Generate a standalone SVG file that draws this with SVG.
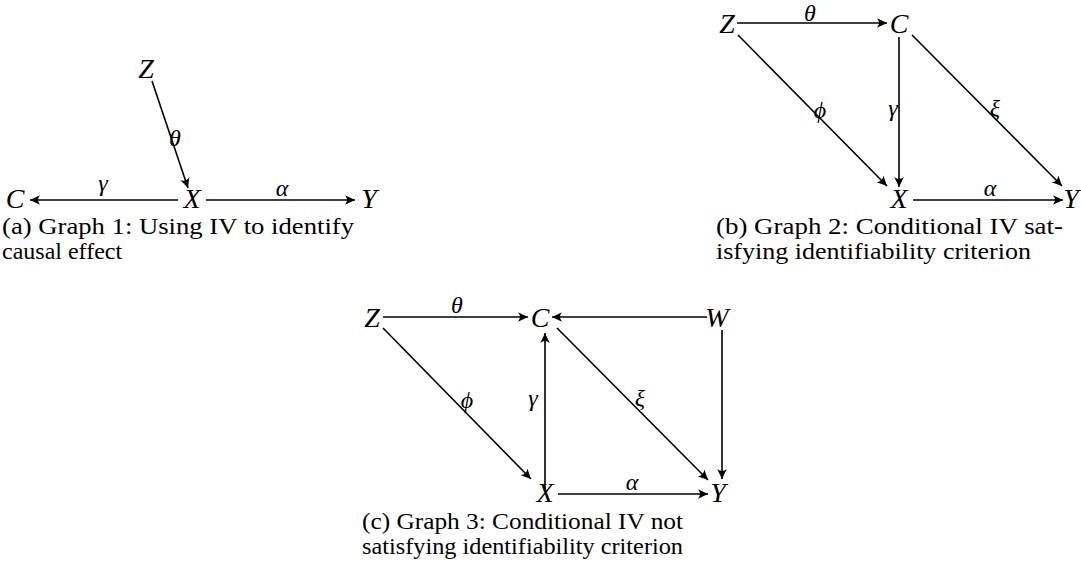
<svg xmlns="http://www.w3.org/2000/svg" width="1081" height="568" viewBox="0 0 1081 568" font-family="'Liberation Serif', 'Times New Roman', Times, 'DejaVu Serif', serif">
<style>
text{font-family:'Liberation Serif','Times New Roman',Times,'DejaVu Serif','Noto Serif',serif}
.node{font-style:italic;font-size:28px;fill:#000;text-anchor:middle}
.lbl{font-style:italic;font-size:24px;fill:#000;text-anchor:middle}
.cap{font-size:24px;fill:#000}
.e{stroke:#000;stroke-width:1.6;fill:none;marker-end:url(#arr)}
</style>
<defs>
<marker id="arr" markerUnits="userSpaceOnUse" viewBox="-11 -6 12 12" refX="0" refY="0" markerWidth="12" markerHeight="12" orient="auto">
<path d="M0,0 L-10,-4.8 Q-6,0 -10,4.8 Z" fill="#000"/>
</marker>
</defs>
<g id="connectors">
<line class="e" x1="152" y1="81" x2="188" y2="188"/>
<line class="e" x1="178" y1="200" x2="30" y2="200"/>
<line class="e" x1="206" y1="200" x2="355" y2="200"/>
<line class="e" x1="737" y1="23" x2="887" y2="23"/>
<line class="e" x1="738" y1="35" x2="887" y2="186"/>
<line class="e" x1="899" y1="37" x2="899" y2="187"/>
<line class="e" x1="912" y1="35" x2="1062" y2="186"/>
<line class="e" x1="913" y1="200" x2="1063" y2="200"/>
<line class="e" x1="383" y1="317" x2="528" y2="317"/>
<line class="e" x1="707" y1="317" x2="552" y2="317"/>
<line class="e" x1="383" y1="328" x2="531" y2="479"/>
<line class="e" x1="545" y1="489" x2="545" y2="333"/>
<line class="e" x1="557" y1="328" x2="708" y2="480"/>
<line class="e" x1="722" y1="330" x2="722" y2="479"/>
<line class="e" x1="558" y1="494" x2="708" y2="494"/>
</g>
<g id="edge-labels">
<text class="lbl" x="175" y="146">θ</text>
<text class="lbl" x="103" y="191">γ</text>
<text class="lbl" x="282" y="196">α</text>
<text class="lbl" x="810" y="21">θ</text>
<text class="lbl" x="820" y="118">ϕ</text>
<text class="lbl" x="893" y="116">γ</text>
<text class="lbl" x="995" y="116">ξ</text>
<text class="lbl" x="990" y="196">α</text>
<text class="lbl" x="457" y="313">θ</text>
<text class="lbl" x="467" y="408">ϕ</text>
<text class="lbl" x="533" y="406">γ</text>
<text class="lbl" x="640" y="406">ξ</text>
<text class="lbl" x="632" y="490">α</text>
</g>
<g id="graph1">
<g id="g1-Z"><text class="node" x="146" y="78">Z</text></g>
<g id="g1-X"><text class="node" x="192" y="208">X</text></g>
<g id="g1-C"><text class="node" x="15" y="208">C</text></g>
<g id="g1-Y"><text class="node" x="369" y="208">Y</text></g>
<g id="g1-caption">
<text class="cap" x="2" y="234" textLength="352" lengthAdjust="spacingAndGlyphs">(a) Graph 1: Using IV to identify</text>
<text class="cap" x="2" y="259">causal effect</text>
</g>
</g>
<g id="graph2">
<g id="g2-Z"><text class="node" x="727" y="33">Z</text></g>
<g id="g2-C"><text class="node" x="899" y="33">C</text></g>
<g id="g2-X"><text class="node" x="899" y="208">X</text></g>
<g id="g2-Y"><text class="node" x="1071" y="208">Y</text></g>
<g id="g2-caption">
<text class="cap" x="716" y="234" textLength="347" lengthAdjust="spacingAndGlyphs">(b) Graph 2: Conditional IV sat-</text>
<text class="cap" x="716" y="259" textLength="315" lengthAdjust="spacingAndGlyphs">isfying identifiability criterion</text>
</g>
</g>
<g id="graph3">
<g id="g3-Z"><text class="node" x="372" y="327">Z</text></g>
<g id="g3-C"><text class="node" x="540" y="327">C</text></g>
<g id="g3-W"><text class="node" x="717" y="327">W</text></g>
<g id="g3-X"><text class="node" x="545" y="502">X</text></g>
<g id="g3-Y"><text class="node" x="718" y="502">Y</text></g>
<g id="g3-caption">
<text class="cap" x="362" y="529" textLength="321" lengthAdjust="spacingAndGlyphs">(c) Graph 3: Conditional IV not</text>
<text class="cap" x="362" y="554" textLength="321" lengthAdjust="spacingAndGlyphs">satisfying identifiability criterion</text>
</g>
</g>
</svg>
